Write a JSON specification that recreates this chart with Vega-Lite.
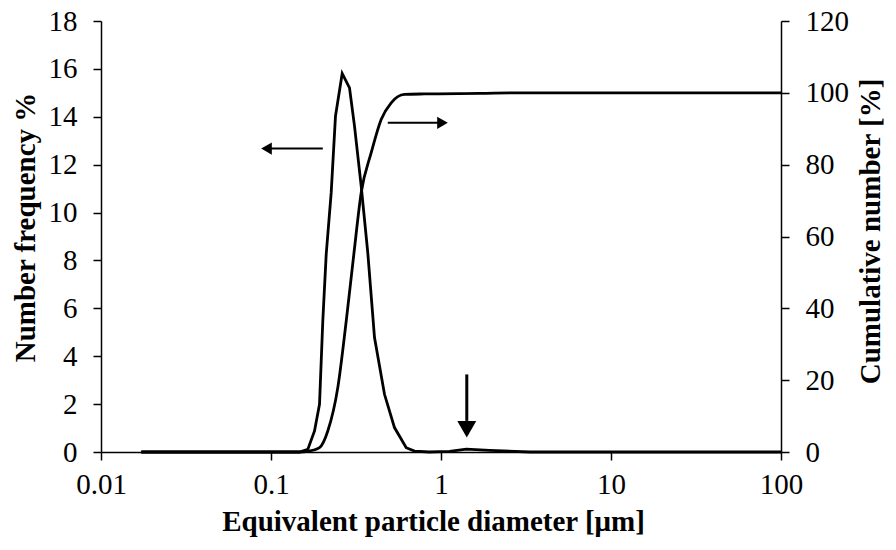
{
  "$schema": "https://vega.github.io/schema/vega-lite/v6.json",
  "autosize": "none",
  "width": 680,
  "height": 431,
  "padding": {"left": 101, "top": 21, "right": 115, "bottom": 98},
  "background": "white",
  "config": {
    "view": {"stroke": null},
    "font": "Liberation Serif",
    "axis": {
      "labelFont": "Liberation Serif",
      "titleFont": "Liberation Serif",
      "labelColor": "black",
      "titleColor": "black",
      "domainColor": "black",
      "tickColor": "black",
      "domainWidth": 1.5,
      "tickWidth": 1.5,
      "tickSize": 8,
      "grid": false,
      "labelFlush": false,
      "labelOverlap": false
    }
  },
  "datasets": {
    "freq": [
      {"d": 0.01725, "v": 0}, {"d": 0.1471, "v": 0}, {"d": 0.1646, "v": 0.11}, {"d": 0.1803, "v": 0.88},
      {"d": 0.1929, "v": 1.99}, {"d": 0.2017, "v": 5.47}, {"d": 0.2112, "v": 8.25}, {"d": 0.226, "v": 10.83},
      {"d": 0.2395, "v": 14.03}, {"d": 0.2623, "v": 15.81}, {"d": 0.2896, "v": 15.21}, {"d": 0.3099, "v": 13.61},
      {"d": 0.3393, "v": 11.1}, {"d": 0.371, "v": 8.32}, {"d": 0.4063, "v": 4.78}, {"d": 0.4652, "v": 2.41},
      {"d": 0.5326, "v": 1.02}, {"d": 0.6242, "v": 0.18}, {"d": 0.6984, "v": 0.04}, {"d": 0.855, "v": 0},
      {"d": 1.122, "v": 0.03}, {"d": 1.41, "v": 0.12}, {"d": 1.93, "v": 0.07}, {"d": 3.32, "v": 0},
      {"d": 10, "v": 0}, {"d": 100, "v": 0}
    ],
    "cum": [
      {"d": 0.01725, "c": 0}, {"d": 0.147, "c": 0}, {"d": 0.1639, "c": 0.19}, {"d": 0.1929, "c": 1.22},
      {"d": 0.2158, "c": 5.84}, {"d": 0.2471, "c": 17.92}, {"d": 0.277, "c": 36.46}, {"d": 0.307, "c": 55.02},
      {"d": 0.3393, "c": 72.19}, {"d": 0.3886, "c": 83.32}, {"d": 0.4447, "c": 92.59}, {"d": 0.5094, "c": 97.23},
      {"d": 0.61, "c": 99.55}, {"d": 0.7996, "c": 99.7}, {"d": 1.68, "c": 99.85}, {"d": 3.0, "c": 100},
      {"d": 100, "c": 100}
    ],
    "shafts": [
      {"d1": 0.093, "d2": 0.2017, "y1": 12.67, "y2": 12.67, "w": 2},
      {"d1": 0.4864, "d2": 1.03, "y1": 13.75, "y2": 13.75, "w": 2},
      {"d1": 1.418, "d2": 1.418, "y1": 3.24, "y2": 1.3, "w": 3}
    ],
    "heads": [
      {"d": 0.0941, "y": 12.67, "shape": "triangle-left", "s": 150},
      {"d": 1.0205, "y": 13.75, "shape": "triangle-right", "s": 150},
      {"d": 1.418, "y": 0.95, "shape": "triangle-down", "s": 361}
    ]
  },
  "layer": [
    {
      "layer": [
        {
          "data": {"name": "freq"},
          "mark": {"type": "line", "color": "black", "strokeWidth": 2.8},
          "encoding": {
            "x": {
              "field": "d", "type": "quantitative",
              "scale": {"type": "log", "domain": [0.01, 100], "nice": false},
              "axis": {
                "values": [0.01, 0.1, 1, 10, 100],
                "labelExpr": "datum.value < 0.05 ? '0.01' : datum.value < 0.5 ? '0.1' : format(datum.value, 'd')",
                "title": "Equivalent particle diameter [μm]",
                "labelFontSize": 29,
                "titleFontSize": 29,
                "titleFontWeight": "bold",
                "labelPadding": 10,
                "titlePadding": 8,
                "titleX": 332
              }
            },
            "y": {
              "field": "v", "type": "quantitative",
              "scale": {"domain": [0, 18], "nice": false},
              "axis": {
                "values": [0, 2, 4, 6, 8, 10, 12, 14, 16, 18],
                "title": "Number frequency %",
                "labelFontSize": 29,
                "titleFontSize": 29,
                "titleFontWeight": "bold",
                "labelPadding": 16,
                "titlePadding": 8,
                "titleY": 206
              }
            }
          }
        },
        {
          "data": {"name": "shafts"},
          "mark": {"type": "rule", "color": "black"},
          "encoding": {
            "x": {"field": "d1", "type": "quantitative"},
            "x2": {"field": "d2"},
            "y": {"field": "y1", "type": "quantitative"},
            "y2": {"field": "y2"},
            "strokeWidth": {"field": "w", "type": "quantitative", "scale": null}
          }
        },
        {
          "data": {"name": "heads"},
          "mark": {"type": "point", "filled": true, "color": "black", "opacity": 1},
          "encoding": {
            "x": {"field": "d", "type": "quantitative"},
            "y": {"field": "y", "type": "quantitative"},
            "shape": {"field": "shape", "type": "nominal", "scale": null},
            "size": {"field": "s", "type": "quantitative", "scale": null}
          }
        }
      ]
    },
    {
      "data": {"name": "cum"},
      "mark": {"type": "line", "color": "black", "strokeWidth": 2.8, "interpolate": "monotone"},
      "encoding": {
        "x": {"field": "d", "type": "quantitative"},
        "y": {
          "field": "c", "type": "quantitative",
          "scale": {"domain": [0, 120], "nice": false},
          "axis": {
            "orient": "right",
            "values": [0, 20, 40, 60, 80, 100, 120],
            "title": "Cumulative number [%]",
            "labelFontSize": 29,
            "titleFontSize": 29,
            "titleFontWeight": "bold",
            "titleAngle": 270,
            "titleBaseline": "top",
            "labelPadding": 16,
            "titlePadding": 8,
            "titleY": 210
          }
        }
      }
    }
  ],
  "resolve": {"scale": {"y": "independent"}}
}
